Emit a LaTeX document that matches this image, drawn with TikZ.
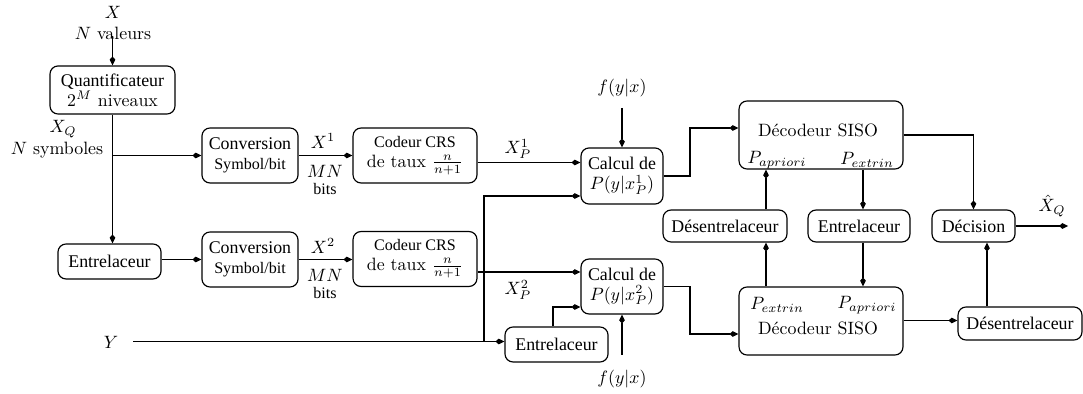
\documentclass[tikz,border=0pt]{standalone}
\usepackage{fontspec}
\newfontfamily\tm{Liberation Serif}
\usetikzlibrary{arrows.meta}
\begin{document}
\begin{tikzpicture}[x=0.56pt,y=-0.56pt,
  box/.style={draw,rounded corners=4.5pt,align=center,inner sep=0pt,line width=0.65pt},
  arr/.style={-{Kite[length=5pt,width=3.2pt,inset=1.8pt]},line width=0.65pt},
  lbl/.style={inner sep=0pt,align=center}]
\useasboundingbox (0,0) rectangle (1083,394);
% boxes
\node[box,minimum width=70pt,minimum height=26.9pt] (quant) at (112.5,90) {\tm Quantificateur\\[-1pt]$2^M$ niveaux};
\node[box,minimum width=53.8pt,minimum height=30.8pt] (conv1) at (250,155.5) {\tm Conversion\\[-1pt]{\tm\small Symbol/bit}};
\node[box,minimum width=53.8pt,minimum height=30.8pt] (conv2) at (250,259.5) {\tm Conversion\\[-1pt]{\tm\small Symbol/bit}};
\node[box,minimum width=69.4pt,minimum height=30.8pt] (cod1) at (415,155.5) {{\tm\small Codeur CRS}\\[-1pt]de taux $\frac{n}{n+1}$};
\node[box,minimum width=69.4pt,minimum height=30.8pt] (cod2) at (415,259) {{\tm\small Codeur CRS}\\[-1pt]de taux $\frac{n}{n+1}$};
\node[box,minimum width=45.9pt,minimum height=31.4pt] (calc1) at (622,176) {\tm Calcul de\\[-1pt]$P(y|x_P^1)$};
\node[box,minimum width=45.9pt,minimum height=30.8pt] (calc2) at (622,286.5) {\tm Calcul de\\[-1pt]$P(y|x_P^2)$};
\node[box,minimum width=57.7pt,minimum height=19.6pt] (ent1) at (109.5,261.5) {\tm Entrelaceur};
\node[box,minimum width=57.7pt,minimum height=19.6pt] (ent3) at (556.5,344.5) {\tm Entrelaceur};
\node[box,minimum width=91.8pt,minimum height=38.1pt] (siso1) at (821,135) {};
\node[box,minimum width=91.8pt,minimum height=38.1pt] (siso2) at (821,321) {};
\node[box,minimum width=69.4pt,minimum height=17.9pt] (des1) at (725,226) {\tm Désentrelaceur};
\node[box,minimum width=57.1pt,minimum height=17.9pt] (ent2) at (859,226) {\tm Entrelaceur};
\node[box,minimum width=46.5pt,minimum height=17.9pt] (dec) at (973.5,226) {\tm Décision};
\node[box,minimum width=69.4pt,minimum height=18.5pt] (des2) at (1020,323.5) {\tm Désentrelaceur};
% texts inside SISO
\node[lbl] (s1t) at (818,130) {Décodeur SISO};
\node[lbl] (s1a) at (777,160) {$P_{apriori}$};
\node[lbl] (s1e) at (867,160) {$P_{extrin}$};
\node[lbl] (s2a) at (867,305) {$P_{apriori}$};
\node[lbl] (s2e) at (777,305) {$P_{extrin}$};
\node[lbl] (s2t) at (818,328) {Décodeur SISO};
% free labels
\node[lbl] (lx) at (113,12) {$X$};
\node[lbl] (lnv) at (113,33) {$N$ valeurs};
\node[lbl] (lxq) at (63,129) {$X_Q$};
\node[lbl] (lns) at (57,150) {$N$ symboles};
\node[lbl] (lx1) at (323,141) {$X^1$};
\node[lbl] (lmn1) at (325,171) {$MN$};
\node[lbl] (lb1) at (325,189) {\tm\small bits};
\node[lbl] (lx2) at (323,246) {$X^2$};
\node[lbl] (lmn2) at (325,275) {$MN$};
\node[lbl] (lb2) at (325,293) {\tm\small bits};
\node[lbl] (lxp1) at (518,149) {$X_P^1$};
\node[lbl] (lxp2) at (518,290) {$X_P^2$};
\node[lbl] (f1) at (622,88) {$f(y|x)$};
\node[lbl] (f2) at (622,379) {$f(y|x)$};
\node[lbl] (ly) at (111,342) {$Y$};
\node[lbl] (lxh) at (1052,206) {$\hat{X}_Q$};
% coordinates
\coordinate (xin) at (112.5,36);
\coordinate (br1) at (112.5,155.5);
\coordinate (c1a) at (581,162.5);
\coordinate (c1b) at (581,196);
\coordinate (c2a) at (581,272);
\coordinate (e3t) at (553,307);
\coordinate (f1s) at (622,108);
\coordinate (f2s) at (622,355);
\coordinate (ys) at (133,341.5);
\coordinate (yb) at (484,341.5);
\coordinate (k1) at (690,128);
\coordinate (k2) at (690,334);
\coordinate (a1) at (766,0);
\coordinate (a2) at (863,0);
\coordinate (a3) at (987,0);
\coordinate (d2) at (0,320.5);
\coordinate (xout) at (1068,226);
% connectors
\draw[arr] (xin) -- (quant.north);
\draw[arr] (quant.south) -- (quant.south |- ent1.north);
\draw[arr] (br1) -- (conv1.west);
\draw[arr] (ent1.east |- conv2.west) -- (conv2.west);
\draw[arr] (conv1.east) -- (cod1.west);
\draw[arr] (conv2.east) -- (conv2.east -| cod2.west);
\draw[arr] (cod1.east |- c1a) -- (calc1.west |- c1a);
\draw[arr] (cod2.east |- c2a) -- (calc2.west |- c2a);
\draw[arr] (f1s) -- (calc1.north);
\draw[arr] (f2s) -- (calc2.south);
\draw[arr] (ys) -- (ent3.west |- ys);
\draw[arr] (yb) |- (calc1.west |- c1b);
\draw[arr] (ent3.north -| e3t) |- (calc2.west |- e3t);
\draw[arr] (calc1.east) -| (k1) -- (siso1.west |- k1);
\draw[arr] (calc2.east) -| (k2) -- (siso2.west |- k2);
\draw[arr] (des1.north -| a1) -- (siso1.south -| a1);
\draw[arr] (siso1.south -| a2) -- (ent2.north -| a2);
\draw[arr] (siso1.east) -| (dec.north);
\draw[arr] (dec.east) -- (xout);
\draw[arr] (siso2.north -| a1) -- (des1.south -| a1);
\draw[arr] (ent2.south -| a2) -- (siso2.north -| a2);
\draw[arr] (siso2.east |- d2) -- (des2.west |- d2);
\draw[arr] (des2.north -| a3) -- (dec.south -| a3);
\end{tikzpicture}
\end{document}
